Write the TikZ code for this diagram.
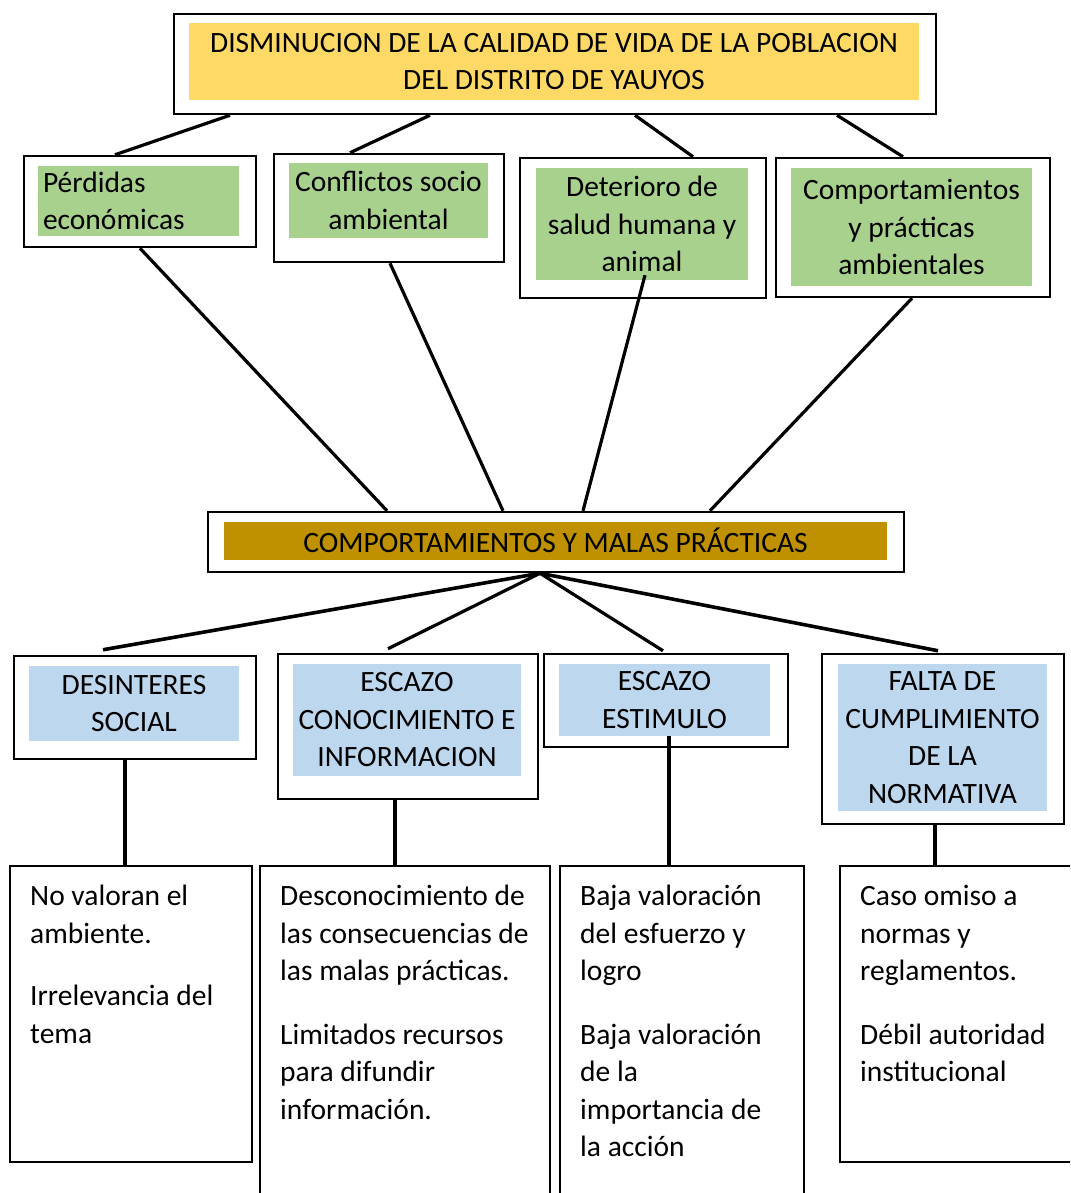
\documentclass[tikz,border=0pt]{standalone}
\usepackage{fontspec}
\setmainfont{Carlito}
\usetikzlibrary{calc}
\definecolor{ylw}{HTML}{FFD966}
\definecolor{grn}{HTML}{A9D18E}
\definecolor{gld}{HTML}{BF9000}
\definecolor{blu}{HTML}{BDD7EE}
\tikzset{
  outerbox/.style={draw=black, line width=2.5pt, fill=white, inner sep=0pt},
  fillbox/.style={inner sep=0pt, align=center},
  txt/.style={inner sep=0pt, align=left, anchor=north west},
  conn/.style={draw=black, line width=3.2pt},
}
\begin{document}
\begin{tikzpicture}[x=1pt,y=-1pt,font=\fontsize{29.5}{37.5}\selectfont]
\path[use as bounding box, clip] (0,0) rectangle (1070,1193);
\fill[white] (0,0) rectangle (1070,1193);

% top
\node[outerbox, minimum width=762pt, minimum height=100pt] (top) at (555,64) {};
\node[fillbox, fill=ylw, minimum width=730pt, minimum height=77pt] (topin) at (554,61.5)
  {DISMINUCION DE LA CALIDAD DE VIDA DE LA POBLACION\\DEL DISTRITO DE YAUYOS};

% level 2
\node[outerbox, minimum width=232pt, minimum height=91pt] (A) at (140,201.5) {};
\node[fillbox, fill=grn, minimum width=201pt, minimum height=70pt, text width=191pt, inner xsep=5pt, align=left] (Ain) at (138.5,201) {Pérdidas\\económicas};
\node[outerbox, minimum width=230pt, minimum height=108pt] (B) at (389,208) {};
\node[fillbox, fill=grn, minimum width=199pt, minimum height=75pt] (Bin) at (388.5,200.5) {Conflictos socio\\ambiental};
\node[outerbox, minimum width=246pt, minimum height=140pt] (C) at (643,228) {};
\node[fillbox, fill=grn, minimum width=212pt, minimum height=112pt] (Cin) at (642,224) {Deterioro de\\salud humana y\\animal};
\node[outerbox, minimum width=274pt, minimum height=139pt] (D) at (913,227.5) {};
\node[fillbox, fill=grn, minimum width=241pt, minimum height=118pt] (Din) at (911.5,227) {Comportamientos\\y prácticas\\ambientales};

% middle
\node[outerbox, minimum width=696pt, minimum height=60pt] (mid) at (556,542) {};
\node[fillbox, fill=gld, minimum width=663pt, minimum height=38pt] (midin) at (555.5,541) {\raisebox{1.5pt}{COMPORTAMIENTOS Y MALAS PRÁCTICAS}};

% level 3
\node[outerbox, minimum width=242pt, minimum height=103pt] (E) at (135,707.5) {};
\node[fillbox, fill=blu, minimum width=210pt, minimum height=75pt] (Ein) at (134,703.5) {DESINTERES\\SOCIAL};
\node[outerbox, minimum width=260pt, minimum height=145pt] (F) at (408,726.5) {};
\node[fillbox, fill=blu, minimum width=228pt, minimum height=112pt] (Fin) at (407,720) {ESCAZO\\CONOCIMIENTO E\\INFORMACION};
\node[outerbox, minimum width=244pt, minimum height=93pt] (G) at (666,700.5) {};
\node[fillbox, fill=blu, minimum width=211pt, minimum height=72pt] (Gin) at (664.5,700) {ESCAZO\\ESTIMULO};
\node[outerbox, minimum width=242pt, minimum height=170pt] (H) at (943,739) {};
\node[fillbox, fill=blu, minimum width=209pt, minimum height=147pt] (Hin) at (942.5,737.5) {FALTA DE\\CUMPLIMIENTO\\DE LA\\NORMATIVA};

% bottom boxes
\node[outerbox, minimum width=242pt, minimum height=296pt] (I) at (131,1014) {};
\node[outerbox, minimum width=290pt, minimum height=400pt] (J) at (405,1066) {};
\node[outerbox, minimum width=244pt, minimum height=400pt] (K) at (682,1066) {};
\node[outerbox, minimum width=280pt, minimum height=296pt] (L) at (980,1014) {};

\node[txt] (Itxt) at (30,885) {No valoran el\\ambiente.\\[25pt]Irrelevancia del\\tema};
\node[txt] (Jtxt) at (280,885) {Desconocimiento de\\las consecuencias de\\las malas prácticas.\\[26pt]Limitados recursos\\para difundir\\información.};
\node[txt] (Ktxt) at (580,885) {Baja valoración\\del esfuerzo y\\logro\\[26pt]Baja valoración\\de la\\importancia de\\la acción};
\node[txt] (Ltxt) at (860,885) {Caso omiso a\\normas y\\reglamentos.\\[26pt]Débil autoridad\\institucional};

% connectors top -> level 2
\draw[conn] (230,0 |- top.south) -- (115,0 |- A.north);
\draw[conn] (430,0 |- top.south) -- (350,0 |- B.north);
\draw[conn] (635,0 |- top.south) -- (693,0 |- C.north);
\draw[conn] (837,0 |- top.south) -- (903,0 |- D.north);

% level 2 -> middle
\draw[conn] (140,0 |- A.south) -- (387,0 |- mid.north);
\draw[conn] (390,0 |- B.south) -- (503,0 |- mid.north);
\draw[conn] ($(645,0 |- Cin.south)+(0,-5)$) -- (583,0 |- mid.north);
\draw[conn] (912,0 |- D.south) -- (710,0 |- mid.north);

% middle -> level 3
\coordinate (hub) at (540,0 |- mid.south);
\draw[conn, line width=3.6pt] (hub) -- ($(103,0 |- E.north)+(0,-5)$);
\draw[conn] (hub) -- ($(388,0 |- F.north)+(0,-4)$);
\draw[conn] (hub) -- ($(663,0 |- G.north)+(0,-2)$);
\draw[conn, line width=3.6pt] (hub) -- ($(938,0 |- H.north)+(0,-2)$);

% level 3 -> bottom
\draw[conn] (125,0 |- E.south) -- (125,0 |- I.north);
\draw[conn] (395,0 |- F.south) -- (395,0 |- J.north);
\draw[conn] (669,0 |- Gin.south) -- (669,0 |- K.north);
\draw[conn] (935,0 |- H.south) -- (935,0 |- L.north);
\end{tikzpicture}
\end{document}
